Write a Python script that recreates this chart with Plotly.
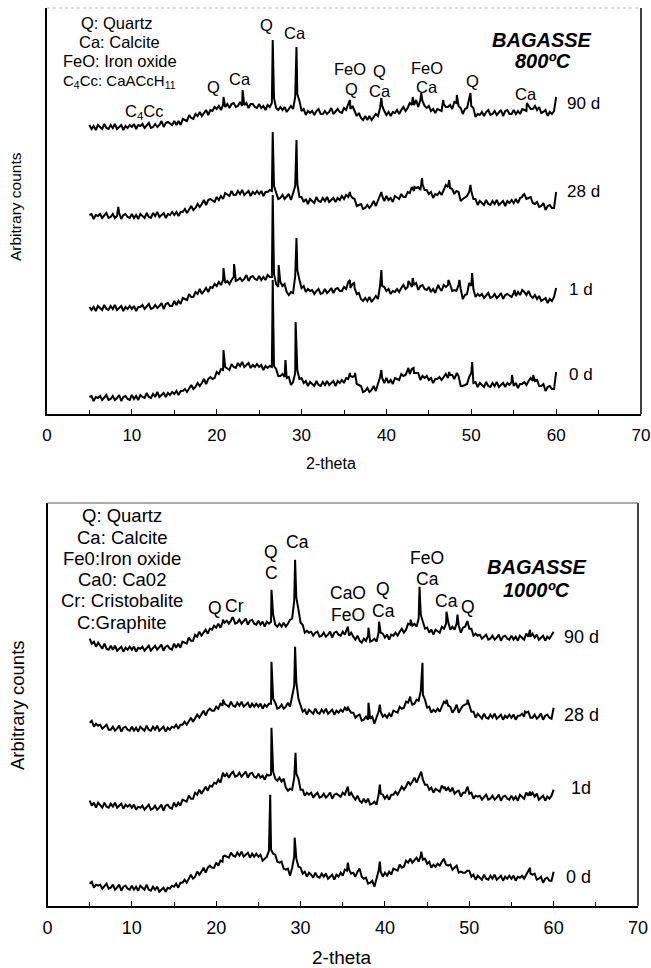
import plotly.graph_objects as go

# ---------------- data ----------------
# 2-theta sampling grid of the scans (degrees), 5..60 every 0.25
two_theta = [round(5.0 + 0.25 * i, 2) for i in range(221)]

# ---- BAGASSE 800 C : intensity above each pattern's start level (arbitrary counts)
top_90d = [0, -4, -1, -5, 0, -2, -4, 1, -3, -4, 0, -3, 1, -4, -2, 0, -5, -1, -3, 0,
           -2, 1, -4, 0, -1, 1, -3, 0, 2, -3, -2, 1, -2, 0, 4, -2, 2, 3, 1, 0,
           4, 0, 4, 0, 6, 5, 4, 10, 7, 6, 11, 9, 13, 9, 12, 15, 10, 15, 14, 18,
           16, 19, 15, 20, 18, 21, 17, 21, 22, 18, 19, 23, 19, 20, 22, 17, 21, 21, 18, 17,
           21, 17, 19, 15, 20, 18, 22, 27, 17, 15, 18, 15, 18, 13, 16, 19, 16, 28, 31, 24,
           14, 16, 10, 14, 12, 14, 10, 14, 16, 11, 11, 14, 11, 13, 17, 11, 14, 16, 13, 12,
           17, 15, 21, 16, 19, 14, 9, 12, 7, 5, 9, 5, 9, 5, 8, 11, 9, 17, 19, 14,
           10, 13, 9, 13, 12, 15, 11, 15, 18, 14, 17, 22, 20, 20, 25, 18, 25, 24, 19, 17,
           19, 14, 16, 12, 16, 15, 14, 21, 18, 18, 20, 16, 23, 22, 19, 17, 11, 16, 17, 26,
           19, 17, 8, 11, 10, 13, 9, 13, 15, 10, 11, 14, 10, 13, 15, 9, 14, 15, 11, 11,
           15, 11, 14, 11, 16, 15, 14, 19, 16, 16, 19, 15, 18, 12, 13, 15, 9, 13, 11, 14,
           28]
top_90d_peak_x = [20.8, 23.05, 26.6, 29.4, 35.7, 39.4, 43.1, 44.1, 46.7, 48.3, 49.9, 56.55]
top_90d_peak_h = [28, 35, 85, 78, 25, 27, 28, 32, 25, 30, 32, 22]

top_28d = [0, 1, -4, 0, -1, 1, -3, 0, 2, -3, -2, 1, -3, -1, 2, -4, 0, 1, -2, -3,
           1, -3, 0, -4, 1, -1, -3, 2, -2, -3, 2, -1, 3, -2, 0, 2, -3, 1, 0, 3,
           0, 3, -1, 3, 3, 6, 2, 6, 9, 5, 7, 11, 8, 11, 15, 10, 15, 16, 14, 13,
           18, 15, 19, 16, 22, 20, 19, 24, 20, 20, 24, 21, 25, 20, 22, 24, 19, 23, 21, 24,
           21, 24, 19, 23, 23, 25, 24, 29, 22, 16, 17, 20, 16, 18, 21, 15, 21, 29, 31, 18,
           18, 13, 16, 11, 16, 14, 12, 18, 14, 13, 17, 14, 18, 13, 15, 17, 13, 17, 15, 19,
           16, 20, 18, 20, 17, 16, 9, 10, 11, 6, 7, 10, 7, 10, 14, 9, 14, 20, 19, 14,
           19, 15, 17, 13, 19, 17, 16, 21, 18, 18, 23, 22, 28, 24, 27, 28, 25, 31, 25, 25,
           21, 23, 17, 21, 20, 23, 20, 25, 30, 28, 27, 26, 21, 24, 23, 14, 16, 18, 19, 23,
           24, 16, 16, 10, 14, 12, 10, 15, 11, 10, 14, 11, 15, 10, 12, 14, 9, 14, 12, 15,
           12, 16, 12, 17, 18, 21, 16, 17, 18, 12, 11, 13, 8, 9, 12, 5, 9, 10, 7, 7,
           23]
top_28d_peak_x = [8.4, 26.6, 29.4, 35.7, 39.4, 43.3, 44.2, 47.4, 48.2, 49.9, 56.1]
top_28d_peak_h = [8, 83, 75, 23, 23, 28, 37, 35, 23, 30, 20]

top_1d = [0, -3, 0, -4, 1, -1, -3, 2, -2, -3, 1, -2, 2, -3, -1, 1, -4, 0, -2, 1,
          -2, 1, -4, 0, 0, 2, -2, 1, 3, -2, -1, 2, -1, 1, 4, -2, 3, 4, 1, 1,
          6, 2, 6, 3, 9, 8, 7, 13, 10, 10, 15, 13, 18, 13, 16, 19, 15, 20, 19, 23,
          21, 25, 22, 27, 24, 26, 23, 27, 30, 26, 27, 29, 26, 28, 32, 26, 30, 31, 28, 27,
          31, 27, 30, 27, 32, 30, 30, 33, 23, 20, 25, 21, 23, 15, 12, 15, 14, 31, 37, 27,
          19, 21, 15, 18, 16, 17, 13, 16, 18, 13, 14, 18, 14, 16, 19, 14, 18, 19, 16, 16,
          20, 18, 25, 19, 23, 19, 13, 14, 8, 6, 9, 6, 10, 5, 8, 11, 8, 21, 21, 20,
          16, 18, 13, 16, 15, 18, 15, 19, 22, 18, 20, 24, 20, 22, 24, 17, 21, 22, 18, 17,
          20, 15, 18, 14, 20, 19, 16, 22, 20, 22, 23, 16, 17, 16, 22, 18, 8, 12, 13, 24,
          21, 18, 10, 13, 11, 13, 9, 12, 14, 9, 10, 13, 9, 11, 14, 8, 12, 13, 11, 10,
          14, 11, 15, 12, 17, 15, 12, 16, 11, 9, 12, 8, 11, 6, 8, 9, 4, 8, 6, 10,
          19]
top_1d_peak_x = [20.8, 22.05, 26.6, 27.3, 29.4, 35.7, 36.2, 39.4, 42.6, 43.1, 46.1, 47.3, 48.6, 50.1, 55.1]
top_1d_peak_h = [39, 43, 112, 42, 69, 27, 24, 37, 26, 29, 22, 27, 27, 34, 17]

top_0d = [0, 1, -4, 0, -1, 1, -3, 0, 2, -3, -2, 1, -3, -1, 2, -4, 0, 1, -2, -3,
          2, -2, 1, -3, 2, 0, -1, 4, 0, -1, 3, 0, 5, 0, 2, 4, 0, 4, 2, 5,
          3, 6, 2, 6, 6, 8, 5, 9, 12, 8, 10, 14, 11, 14, 18, 13, 18, 20, 18, 19,
          25, 23, 28, 27, 30, 28, 27, 33, 30, 29, 34, 31, 35, 30, 32, 34, 29, 32, 30, 33,
          30, 32, 27, 31, 29, 31, 30, 31, 28, 21, 21, 23, 20, 19, 20, 12, 15, 24, 27, 18,
          19, 14, 16, 11, 15, 13, 11, 16, 12, 11, 15, 12, 16, 12, 14, 16, 11, 16, 14, 17,
          14, 19, 18, 21, 20, 21, 13, 12, 11, 5, 6, 9, 5, 7, 11, 6, 12, 20, 19, 14,
          19, 14, 17, 13, 19, 18, 17, 23, 21, 22, 28, 23, 28, 24, 24, 24, 17, 21, 19, 21,
          17, 19, 14, 18, 18, 20, 17, 20, 23, 19, 22, 22, 18, 22, 21, 11, 11, 12, 13, 20,
          24, 14, 15, 10, 14, 12, 10, 15, 11, 10, 14, 11, 15, 10, 12, 14, 10, 14, 12, 15,
          11, 14, 9, 13, 13, 15, 12, 16, 19, 16, 16, 17, 11, 11, 13, 6, 10, 11, 8, 8,
          25]
top_0d_peak_x = [20.8, 26.6, 28.1, 29.3, 35.7, 36.3, 39.4, 42.6, 43.2, 47.4, 48.3, 50.1, 54.8, 57.3]
top_0d_peak_h = [47, 117, 37, 75, 24, 24, 27, 29, 29, 25, 24, 35, 22, 22]

# ---- BAGASSE 1000 C
bot_90d = [3, -2, 0, -5, -1, -4, -7, -2, -7, -8, -4, -8, -4, -9, -7, -5, -10, -6, -8, -5,
           -8, -5, -10, -6, -7, -5, -9, -6, -4, -9, -7, -4, -8, -6, -3, -9, -5, -4, -7, -8,
           -2, -6, -2, -6, 0, -1, -2, 4, 1, 1, 7, 5, 10, 6, 9, 12, 8, 13, 12, 16,
           14, 18, 14, 19, 19, 21, 18, 21, 24, 18, 19, 22, 18, 20, 23, 17, 21, 22, 18, 17,
           21, 17, 20, 15, 20, 18, 20, 27, 17, 15, 18, 15, 19, 15, 18, 22, 23, 41, 44, 32,
           19, 17, 9, 11, 9, 10, 6, 9, 10, 5, 6, 9, 5, 7, 10, 4, 9, 10, 7, 6,
           10, 7, 12, 6, 9, 5, 2, 6, 1, -1, 3, 1, 6, 0, 1, 3, 0, 9, 9, 8,
           4, 7, 2, 7, 6, 9, 6, 10, 13, 9, 12, 18, 17, 16, 18, 15, 23, 27, 19, 13,
           14, 9, 12, 7, 12, 10, 9, 15, 13, 18, 20, 12, 15, 12, 18, 16, 9, 14, 15, 20,
           13, 13, 6, 8, 6, 7, 3, 5, 7, 2, 3, 6, 2, 4, 7, 1, 5, 6, 3, 2,
           6, 2, 5, 1, 6, 4, 2, 8, 5, 5, 8, 4, 7, 2, 4, 6, 1, 5, 3, 6,
           10]
bot_90d_peak_x = [20.8, 21.9, 26.55, 29.35, 35.6, 38.05, 39.3, 43.05, 44.1, 47.3, 48.6, 49.8, 57.2]
bot_90d_peak_h = [22, 24, 52, 82, 15, 14, 20, 22, 55, 30, 27, 20, 12]

bot_28d = [-1, 1, -5, -2, -4, -3, -7, -5, -3, -8, -8, -5, -9, -7, -4, -10, -6, -5, -8, -9,
           -5, -9, -6, -10, -5, -7, -9, -4, -8, -9, -5, -8, -4, -9, -7, -5, -10, -6, -8, -5,
           -6, -3, -7, -3, -3, 0, -3, 1, 4, 0, 3, 7, 4, 7, 11, 6, 11, 13, 11, 11,
           15, 13, 18, 16, 18, 16, 15, 20, 16, 15, 19, 16, 20, 15, 17, 19, 14, 18, 15, 18,
           15, 18, 13, 17, 15, 18, 18, 23, 19, 13, 14, 17, 13, 15, 19, 15, 25, 36, 39, 23,
           16, 10, 12, 7, 12, 10, 8, 13, 9, 8, 12, 9, 13, 8, 10, 12, 7, 11, 9, 12,
           10, 14, 11, 12, 9, 9, 4, 6, 7, 1, 2, 5, 2, 3, 5, -2, 4, 10, 10, 5,
           7, 4, 8, 5, 11, 10, 9, 15, 13, 14, 20, 19, 25, 17, 18, 22, 21, 31, 27, 22,
           14, 15, 9, 12, 10, 13, 10, 15, 20, 18, 16, 15, 9, 12, 17, 9, 13, 16, 17, 18,
           17, 10, 10, 4, 8, 6, 3, 8, 4, 3, 7, 4, 8, 3, 5, 7, 2, 6, 4, 7,
           4, 7, 2, 6, 6, 8, 5, 9, 10, 4, 4, 7, 3, 5, 8, 2, 6, 7, 4, 3,
           14]
bot_28d_peak_x = [20.8, 26.55, 29.35, 35.6, 38.05, 39.4, 43.05, 44.45, 47.3, 48.6, 49.8, 56.6]
bot_28d_peak_h = [22, 60, 75, 15, 19, 17, 22, 59, 22, 14, 22, 10]

bot_1d = [2, -3, 0, -5, 0, -2, -5, 0, -4, -5, -1, -4, 0, -5, -3, -1, -6, -2, -4, -2,
          -5, -2, -7, -4, -5, -3, -7, -4, -2, -7, -6, -3, -7, -5, -2, -8, -3, -2, -5, -6,
          0, -4, 0, -3, 3, 2, 1, 7, 4, 4, 10, 8, 13, 9, 13, 16, 12, 17, 16, 20,
          19, 23, 20, 27, 26, 29, 25, 29, 31, 26, 27, 30, 26, 28, 31, 25, 29, 30, 26, 25,
          29, 25, 27, 23, 28, 27, 28, 31, 24, 22, 25, 21, 24, 15, 12, 14, 13, 25, 29, 24,
          13, 13, 7, 10, 8, 10, 5, 8, 10, 5, 6, 9, 5, 7, 10, 4, 8, 9, 7, 6,
          10, 8, 14, 7, 10, 6, 3, 7, 2, 0, 4, 0, 4, -2, -1, 1, -2, 8, 9, 8,
          4, 7, 3, 8, 8, 11, 8, 12, 16, 13, 16, 21, 18, 21, 25, 20, 26, 30, 23, 18,
          18, 13, 15, 10, 14, 12, 11, 17, 14, 12, 15, 11, 15, 9, 11, 12, 6, 10, 10, 16,
          9, 10, 4, 7, 6, 7, 3, 6, 8, 3, 4, 7, 3, 5, 8, 2, 6, 7, 4, 3,
          7, 3, 6, 2, 8, 6, 4, 10, 7, 7, 10, 6, 9, 3, 5, 7, 2, 6, 4, 7,
          13]
bot_1d_peak_x = [20.8, 26.55, 29.4, 35.6, 39.4, 44.3, 47.1, 49.8, 57.2]
bot_1d_peak_h = [30, 75, 50, 16, 18, 31, 16, 16, 11]

bot_0d = [-1, 1, -5, -2, -3, -2, -6, -3, -1, -6, -5, -2, -7, -5, -2, -8, -4, -3, -6, -7,
          -3, -7, -4, -8, -3, -5, -7, -2, -7, -8, -4, -7, -4, -9, -7, -5, -9, -5, -6, -3,
          -4, -1, -5, 0, 0, 3, 0, 4, 8, 4, 6, 11, 8, 11, 15, 10, 15, 17, 15, 15,
          20, 17, 22, 21, 27, 26, 25, 30, 27, 26, 30, 27, 31, 26, 28, 30, 25, 29, 26, 29,
          26, 28, 22, 24, 26, 32, 33, 29, 28, 21, 20, 21, 14, 13, 14, 7, 15, 26, 24, 16,
          15, 9, 11, 6, 10, 8, 5, 10, 6, 5, 9, 6, 9, 4, 6, 8, 3, 8, 6, 10,
          7, 13, 12, 13, 9, 10, 6, 11, 14, 6, 4, 5, -1, 0, 2, -4, 3, 12, 11, 6,
          10, 7, 11, 8, 14, 13, 12, 18, 15, 16, 22, 20, 24, 20, 23, 25, 21, 27, 23, 24,
          19, 21, 15, 18, 16, 19, 17, 21, 24, 18, 17, 18, 13, 15, 17, 10, 11, 10, 10, 12,
          12, 6, 8, 3, 7, 5, 3, 8, 4, 3, 7, 4, 8, 3, 5, 7, 2, 6, 4, 7,
          4, 7, 2, 6, 5, 7, 4, 8, 12, 9, 8, 9, 3, 4, 6, 0, 4, 5, 2, 2,
          11]
bot_0d_peak_x = [20.8, 26.4, 29.3, 35.6, 39.4, 44.3, 47.1, 57.2]
bot_0d_peak_h = [26, 88, 45, 20, 21, 31, 21, 15]

# stacking offsets of the patterns (arbitrary counts)
top_offsets = [289, 199, 107, 17]
bot_offsets = [264, 184, 103, 23]
day_labels_top = ["90 d", "28 d", "1 d", "0 d"]
day_labels_bot = ["90 d", "28 d", "1d", "0 d"]

# ---------------- figure ----------------
def merged(base, px, ph, off):
    pts = sorted(list(zip(two_theta, base)) + list(zip(px, ph)))
    return [p[0] for p in pts], [p[1] + off for p in pts]

FONT = "Arial, Liberation Sans, sans-serif"
fig = go.Figure()

top_series = [(top_90d, top_90d_peak_x, top_90d_peak_h),
              (top_28d, top_28d_peak_x, top_28d_peak_h),
              (top_1d, top_1d_peak_x, top_1d_peak_h),
              (top_0d, top_0d_peak_x, top_0d_peak_h)]
bot_series = [(bot_90d, bot_90d_peak_x, bot_90d_peak_h),
              (bot_28d, bot_28d_peak_x, bot_28d_peak_h),
              (bot_1d, bot_1d_peak_x, bot_1d_peak_h),
              (bot_0d, bot_0d_peak_x, bot_0d_peak_h)]

LW = 2.0
for (b, px, ph), off, name in zip(top_series, top_offsets, day_labels_top):
    assert len(b) == len(two_theta), (name, len(b))
    x, y = merged(b, px, ph, off)
    fig.add_trace(go.Scatter(x=x, y=y, mode="lines", name=name, xaxis="x", yaxis="y",
                             line=dict(color="black", width=LW), showlegend=False))
for (b, px, ph), off, name in zip(bot_series, bot_offsets, day_labels_bot):
    assert len(b) == len(two_theta), (name, len(b))
    x, y = merged(b, px, ph, off)
    fig.add_trace(go.Scatter(x=x, y=y, mode="lines", name=name, xaxis="x2", yaxis="y2",
                             line=dict(color="black", width=LW), showlegend=False))

W, H = 651, 968
top_dom_x = [47 / W, 641 / W]
top_dom_y = [1 - 414 / H, 1 - 8 / H]
bot_dom_x = [47.5 / W, 638 / W]
bot_dom_y = [1 - 905.7 / H, 1 - 503 / H]

def xaxis(dom, anchor, size):
    return dict(domain=dom, anchor=anchor, range=[0, 70], dtick=10, tick0=0,
                showline=True, linecolor="black", linewidth=1.5, mirror=False,
                ticks="inside", ticklen=5, tickcolor="black", tickwidth=1,
                minor=dict(dtick=5, ticks="inside", ticklen=4, tickcolor="black"),
                showgrid=False, zeroline=False, ticklabelstandoff=5, automargin=False,
                tickfont=dict(family=FONT, size=size, color="black"))

def yaxis(dom, anchor, top):
    return dict(domain=dom, anchor=anchor, range=[0, top], showline=True,
                linecolor="black", linewidth=1.5, showticklabels=False, ticks="",
                showgrid=False, zeroline=False, automargin=False)

ann = []
def t(x, y, text, size, xref="x", yref="y", **kw):
    ann.append(dict(x=x, y=y, xref=xref, yref=yref, text=text, showarrow=False,
                    xanchor="center", yanchor="middle",
                    font=dict(family=FONT, size=size, color="black"), **kw))

# top panel texts
for txt, x, y in [("Q: Quartz", 8.3, 391), ("Ca: Calcite", 8.6, 372),
                  ("FeO: Iron oxide", 8.6, 353)]:
    t(x, y, txt, 16.5)
t(8.6, 332, "C<sub>4</sub>Cc: CaACcH<sub>11</sub>", 15)
for txt, x, y in [("Q", 19.6, 327), ("Ca", 22.7, 335), ("Q", 25.9, 389), ("Ca", 29.2, 381),
                  ("C<sub>4</sub>Cc", 11.5, 302), ("FeO", 35.7, 345), ("Q", 35.9, 325),
                  ("Q", 39.2, 343), ("Ca", 39.2, 323), ("FeO", 44.8, 346), ("Ca", 44.8, 327),
                  ("Q", 50.2, 333), ("Ca", 56.4, 320)]:
    t(x, y, txt, 16.5)
for txt, x, y in [("90 d", 63.2, 310), ("28 d", 63.2, 222), ("1 d", 62.9, 125), ("0 d", 62.9, 40)]:
    t(x, y, txt, 17)
t(58.3, 374, "<b><i>BAGASSE</i></b>", 20)
t(58.4, 353, "<b><i>800ºC</i></b>", 20)

# bottom panel texts
for txt, y in [("Q: Quartz", 390.7), ("Ca: Calcite", 368.7), ("Fe0:Iron oxide", 347.7),
               ("Ca0: Ca02", 326.7), ("Cr: Cristobalite", 305.7), ("C:Graphite", 283.7)]:
    t(8.8, y, txt, 18.5, xref="x2", yref="y2")
for txt, x, y in [("Q", 19.8, 297.7), ("Cr", 22.2, 299.7), ("Q", 26.5, 353.7), ("C", 26.5, 332.7),
                  ("Ca", 29.6, 363.7), ("CaO", 35.6, 312.7), ("FeO", 35.6, 290.7),
                  ("Q", 39.8, 316.7), ("Ca", 39.8, 294.7), ("FeO", 45.0, 347.7),
                  ("Ca", 45.0, 326.7), ("Ca", 47.3, 304.7), ("Q", 49.9, 298.7)]:
    t(x, y, txt, 17.5, xref="x2", yref="y2")
for txt, x, y in [("90 d", 63.3, 268.7), ("28 d", 63.3, 190.7), ("1d", 63.2, 117.7), ("0 d", 62.9, 28.7)]:
    t(x, y, txt, 18, xref="x2", yref="y2")
t(58.0, 338.7, "<b><i>BAGASSE</i></b>", 20, xref="x2", yref="y2")
t(58.0, 315.7, "<b><i>1000ºC</i></b>", 20, xref="x2", yref="y2")

# axis titles
t(16 / W, 1 - 207 / H, "Arbitrary counts", 15.5, xref="paper", yref="paper", textangle=-90)
t(17 / W, 1 - 705 / H, "Arbitrary counts", 18.5, xref="paper", yref="paper", textangle=-90)
t(331 / W, 1 - 463 / H, "2-theta", 16, xref="paper", yref="paper")
t(342 / W, 1 - 957 / H, "2-theta", 19, xref="paper", yref="paper")

shapes = [
    dict(type="line", xref="x domain", yref="y domain", x0=1, x1=1, y0=0, y1=1,
         line=dict(color="black", width=1.5)),
    dict(type="line", xref="x domain", yref="y domain", x0=0, x1=1, y0=1, y1=1,
         line=dict(color="#bbbbbb", width=1, dash="dot")),
    dict(type="line", xref="x2 domain", yref="y2 domain", x0=1, x1=1, y0=0, y1=1,
         line=dict(color="black", width=1.5)),
    dict(type="line", xref="x2 domain", yref="y2 domain", x0=0, x1=1, y0=1, y1=1,
         line=dict(color="#555555", width=1)),
]

fig.update_layout(
    width=W, height=H, autosize=False, margin=dict(l=0, r=0, t=0, b=0, pad=0),
    paper_bgcolor="white", plot_bgcolor="white",
    xaxis=xaxis(top_dom_x, "y", 17), yaxis=yaxis(top_dom_y, "x", 406),
    xaxis2=xaxis(bot_dom_x, "y2", 18), yaxis2=yaxis(bot_dom_y, "x2", 402.7),
    annotations=ann, shapes=shapes, showlegend=False,
)

fig.write_html(
    "out.html",
    config={"responsive": False, "displayModeBar": False},
    post_script=("document.body.style.margin='0';document.body.style.padding='0';"
                 "document.documentElement.style.overflow='hidden';"
                 "document.body.style.overflow='hidden';"),
)
